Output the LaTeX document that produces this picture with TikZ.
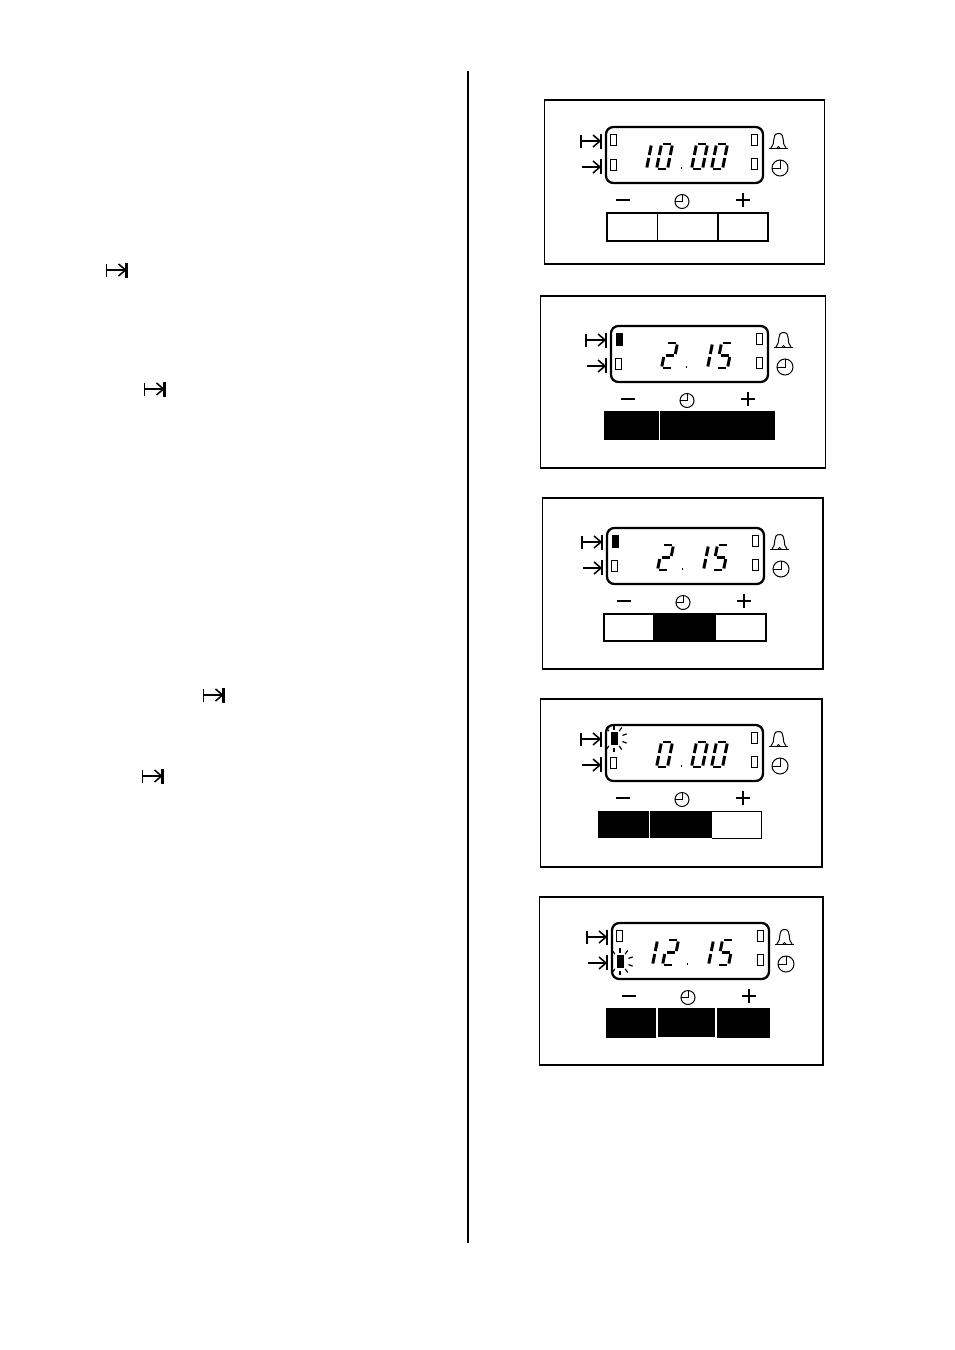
\documentclass[tikz,border=0pt]{standalone}
\tikzset{
	lcdseg/.style={line width=2.2pt},
	lcdbox/.style={line width=1.7pt,rounded corners=5.5},
	lamp/.style={line width=.6pt},
	icon/.style={line width=.75pt},
	sym/.style={line width=1.15pt},
	frame/.style={line width=.85pt},
	keyline/.style={line width=1.3pt},
}
% segments of one digit
\newcommand{\sga}{\draw[lcdseg] (1.5,0)--(9.5,0);}
\newcommand{\sgb}{\draw[lcdseg] (11,1.5)--(11,11);}
\newcommand{\sgc}{\draw[lcdseg] (11,14)--(11,23.5);}
\newcommand{\sgd}{\draw[lcdseg] (1.5,25)--(9.5,25);}
\newcommand{\sge}{\draw[lcdseg] (0,14)--(0,23.5);}
\newcommand{\sgf}{\draw[lcdseg] (0,1.5)--(0,11);}
\newcommand{\sgg}{\draw[lcdseg] (1.5,12.5)--(9.5,12.5);}
\newcommand{\dzero}{\sga\sgb\sgc\sgd\sge\sgf}
\newcommand{\done}{\sgb\sgc}
\newcommand{\dtwo}{\sga\sgb\sgg\sge\sgd}
\newcommand{\dfive}{\sga\sgf\sgg\sgc\sgd}
\newcommand{\placedigit}[2]{\begin{scope}[shift={(#1,17)},xslant=.2] #2 \end{scope}}
% the small start symbol
\newcommand{\startsym}[2]{
	\draw[sym] (#1,#2-6.5)--(#1,#2+6.5);
	\draw[sym] (#1,#2)--(#1+19,#2);
	\draw[sym] (#1+12,#2-6)--(#1+19,#2)--(#1+12,#2+6);
	\draw[line width=1.7pt] (#1+20,#2-7.5)--(#1+20,#2+7.5);
}
% the lamps
\newcommand{\lampoff}[2]{\draw[lamp] (#1,#2) rectangle ++(5.5,11.5);}
\newcommand{\lampon}[2]{\fill (#1,#2) rectangle ++(7,13);}
\newcommand{\lampflash}[2]{
	\fill (#1,#2) rectangle ++(7,13);
	\foreach \ang in {-90,-55,-20,20,55,90,125,235}
		\draw[line width=.9pt] ($(#1+3.5,#2+6.5)+(\ang:9)$)--($(#1+3.5,#2+6.5)+(\ang:13.5)$);
}
\newcommand{\clockface}[3]{
	\draw[icon] (#1,#2) circle (#3);
	\draw[icon] (#1-#3,#2)--(#1,#2)--(#1,#2-#3);
}
% display with its symbols: x, y, four digits, upper lamp, lower lamp
\newcommand{\lcdpanel}[8]{
	\begin{scope}[shift={(#1,#2)}]
		\draw[lcdbox] (0,0) rectangle (157,56);
		\placedigit{34.5}{#3}
		\placedigit{55.5}{#4}
		\placedigit{90.5}{#5}
		\placedigit{110.5}{#6}
		\fill (74.5,40) rectangle ++(1.6,1.6);
		#7{4.5}{7}
		#8{4.5}{32}
		\lampoff{145.5}{7}
		\lampoff{145.5}{31}
		\startsym{-25}{14}
		\draw[sym] (-24,40)--(-6,40);
		\draw[sym] (-13,34)--(-6,40)--(-13,46);
		\draw[line width=1.7pt] (-5,32)--(-5,47);
		% bell
		\draw[icon] (163,21)--(182,21);
		\draw[icon] (165,21) .. controls (170,17) and (165,6.5) .. (172.5,6.5)
			.. controls (180,6.5) and (175,17) .. (180,21);
		\draw[icon] (171,21) arc (180:360:1.5);
		\clockface{174}{41}{8}
		\clockface{76}{74.5}{7}
		\draw[line width=1.5pt] (10,72.5)--(24,72.5);
		\draw[line width=1.5pt] (130,72.5)--(144,72.5);
		\draw[line width=1.5pt] (137,65.5)--(137,79.5);
	\end{scope}
}
\usetikzlibrary{calc}
\begin{document}
\begin{tikzpicture}[x=.75pt,y=-.75pt]
	\useasboundingbox (0,0) rectangle (954,1350);
	\fill[white] (0,0) rectangle (954,1350);

	\draw[line width=1.6pt] (468,71)--(468,1243);

	\startsym{106.5}{270}
	\startsym{144.5}{389}
	\startsym{203.5}{695}
	\startsym{142.5}{776}

	% first display
	\draw[frame] (544.5,100) rectangle (824.5,264);
	\lcdpanel{606}{127}{\done}{\dzero}{\dzero}{\dzero}{\lampoff}{\lampoff}
	\draw[keyline] (607,213) rectangle (768,241);
	\draw[line width=.7pt] (657,213)--(657,241);
	\draw[keyline] (718,213)--(718,241);

	% second display
	\draw[frame] (540.5,296) rectangle (825.5,468);
	\lcdpanel{611}{326}{}{\dtwo}{\done}{\dfive}{\lampon}{\lampoff}
	\fill (604,411) rectangle (775,440);
	\draw[white,line width=.7pt] (659.5,411)--(659.5,440);

	% third display
	\draw[frame] (542.5,498) rectangle (823,669);
	\lcdpanel{607}{528}{}{\dtwo}{\done}{\dfive}{\lampon}{\lampoff}
	\fill (653,614) rectangle (716,641);
	\draw[keyline] (604,614) rectangle (766,641);

	% fourth display
	\draw[frame] (540.5,699) rectangle (822,867);
	\lcdpanel{606}{725}{}{\dzero}{\dzero}{\dzero}{\lampflash}{\lampoff}
	\fill (598,811) rectangle (712,838);
	\draw[white,line width=.7pt] (649,811)--(649,838);
	\draw[line width=.75pt] (712,811)--(761,811)--(761,838)--(712,838);

	% fifth display
	\draw[frame] (539.5,897) rectangle (823,1065);
	\lcdpanel{612}{923}{\done}{\dtwo}{\done}{\dfive}{\lampoff}{\lampflash}
	\fill (606,1008) rectangle (656,1038);
	\fill (658,1008) rectangle (715,1037);
	\fill (717,1008) rectangle (770,1038);
\end{tikzpicture}
\end{document}
